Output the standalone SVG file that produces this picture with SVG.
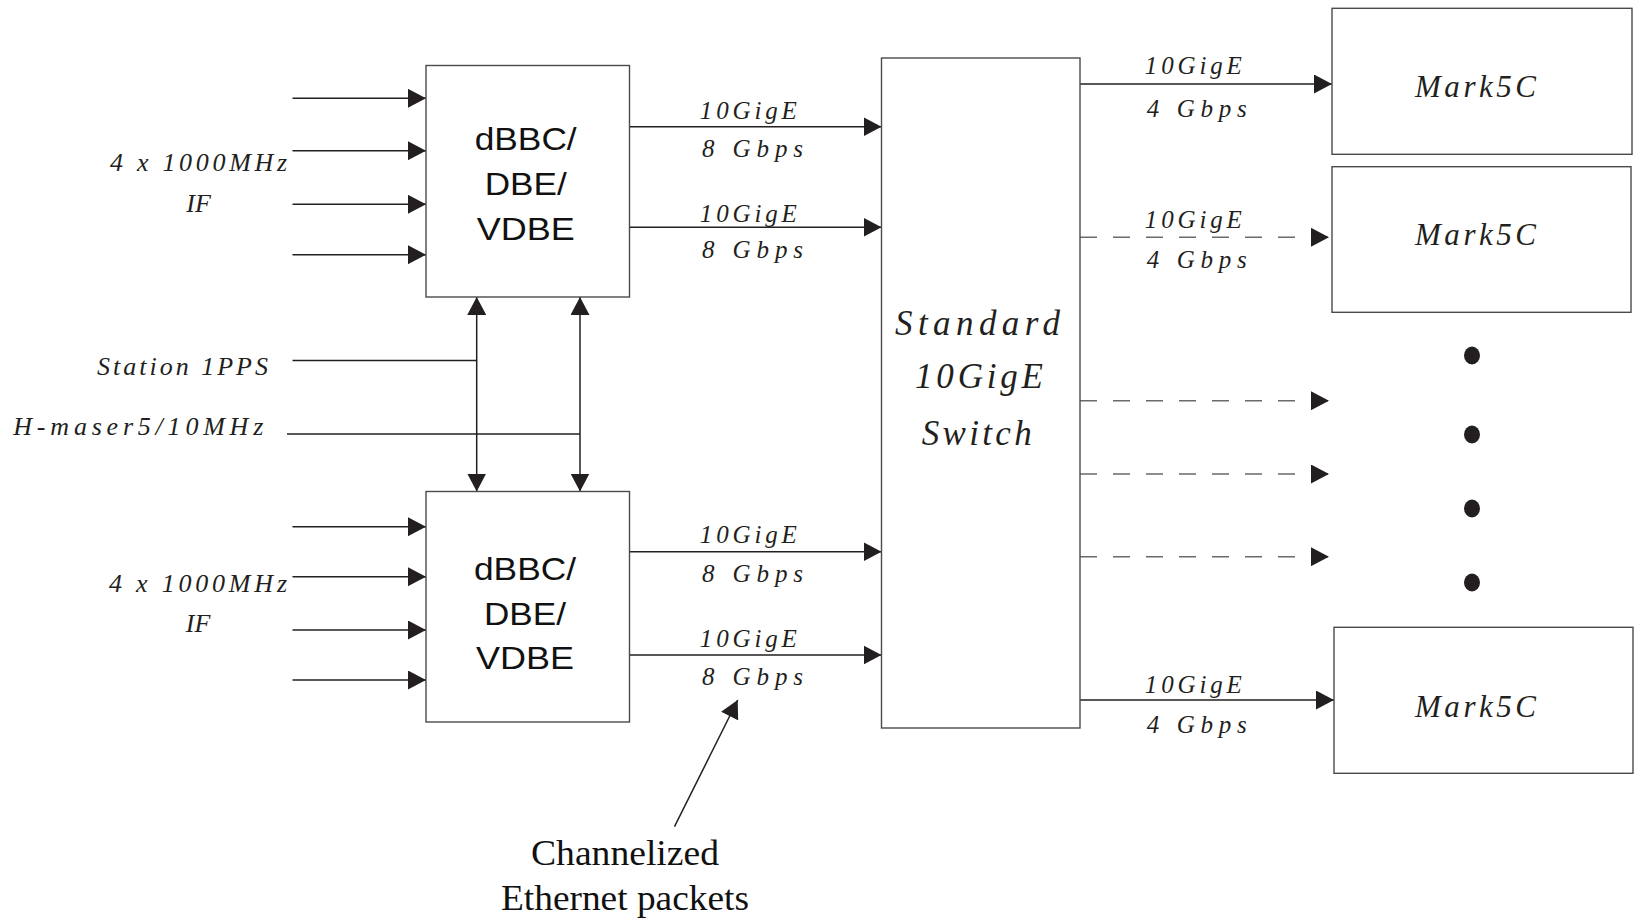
<svg xmlns="http://www.w3.org/2000/svg" width="1636" height="920" viewBox="0 0 1636 920">
<style>
.box{fill:#fff;stroke:#4a4a4a;stroke-width:1.4}
.ln{fill:none;stroke:#231f20;stroke-width:1.5}
.dash{fill:none;stroke:#6a6a6a;stroke-width:1.5;stroke-dasharray:17 16}
.sans{font-family:"Liberation Sans",Arial,sans-serif;font-size:31px;fill:#111;text-anchor:middle}
.it{font-family:"Liberation Serif","Times New Roman",serif;font-style:italic;fill:#231f20;text-anchor:middle}
.lbl{font-size:25px}
.side{font-size:26px}
.big{font-size:35px}
.mk{font-size:31px}
.ser{font-family:"Liberation Serif","Times New Roman",serif;font-size:36px;fill:#111;text-anchor:middle}
.dot{fill:#231f20}
</style>
<defs>
<marker id="ah" markerUnits="userSpaceOnUse" markerWidth="18" markerHeight="19" refX="18" refY="9.5" orient="auto">
<path d="M0,0 L18,9.5 L0,19 z" fill="#231f20"/>
</marker>
</defs>
<rect width="1636" height="920" fill="#fff"/>

<g id="connectors">
<line class="ln" x1="292.5" y1="98.3" x2="426" y2="98.3" marker-end="url(#ah)"/>
<line class="ln" x1="292.5" y1="150.7" x2="426" y2="150.7" marker-end="url(#ah)"/>
<line class="ln" x1="292.5" y1="204.3" x2="426" y2="204.3" marker-end="url(#ah)"/>
<line class="ln" x1="292.5" y1="254.7" x2="426" y2="254.7" marker-end="url(#ah)"/>
<line class="ln" x1="292.5" y1="526.7" x2="426" y2="526.7" marker-end="url(#ah)"/>
<line class="ln" x1="292.5" y1="576.7" x2="426" y2="576.7" marker-end="url(#ah)"/>
<line class="ln" x1="292.5" y1="630" x2="426" y2="630" marker-end="url(#ah)"/>
<line class="ln" x1="292.5" y1="680" x2="426" y2="680" marker-end="url(#ah)"/>
<line class="ln" x1="292.5" y1="360.5" x2="476.7" y2="360.5"/>
<line class="ln" x1="287" y1="434" x2="580" y2="434"/>
<line class="ln" x1="476.7" y1="394" x2="476.7" y2="297" marker-end="url(#ah)"/>
<line class="ln" x1="476.7" y1="394" x2="476.7" y2="491.5" marker-end="url(#ah)"/>
<line class="ln" x1="580" y1="394" x2="580" y2="297" marker-end="url(#ah)"/>
<line class="ln" x1="580" y1="394" x2="580" y2="491.5" marker-end="url(#ah)"/>
<line class="ln" x1="629.5" y1="126.7" x2="881.5" y2="126.7" marker-end="url(#ah)"/>
<line class="ln" x1="629.5" y1="227.3" x2="881.5" y2="227.3" marker-end="url(#ah)"/>
<line class="ln" x1="629.5" y1="551.7" x2="881.5" y2="551.7" marker-end="url(#ah)"/>
<line class="ln" x1="629.5" y1="655" x2="881.5" y2="655" marker-end="url(#ah)"/>
<line class="ln" x1="1080" y1="84" x2="1332" y2="84" marker-end="url(#ah)"/>
<line class="dash" x1="1080" y1="237.3" x2="1329" y2="237.3" marker-end="url(#ah)"/>
<line class="dash" x1="1080" y1="400.7" x2="1329" y2="400.7" marker-end="url(#ah)"/>
<line class="dash" x1="1080" y1="474" x2="1329" y2="474" marker-end="url(#ah)"/>
<line class="dash" x1="1080" y1="556.7" x2="1329" y2="556.7" marker-end="url(#ah)"/>
<line class="ln" x1="1080" y1="700" x2="1334" y2="700" marker-end="url(#ah)"/>
<line class="ln" x1="674.5" y1="826.7" x2="737.7" y2="700" marker-end="url(#ah)"/>
<text class="it lbl" x="748.3" y="119" textLength="97" lengthAdjust="spacing">10GigE</text>
<text class="it lbl" x="752.5" y="156.7" textLength="101" lengthAdjust="spacing">8 Gbps</text>
<text class="it lbl" x="748.3" y="221.7" textLength="97" lengthAdjust="spacing">10GigE</text>
<text class="it lbl" x="752.5" y="258.3" textLength="101" lengthAdjust="spacing">8 Gbps</text>
<text class="it lbl" x="748.3" y="543.3" textLength="97" lengthAdjust="spacing">10GigE</text>
<text class="it lbl" x="752.5" y="581.7" textLength="101" lengthAdjust="spacing">8 Gbps</text>
<text class="it lbl" x="748.3" y="646.7" textLength="97" lengthAdjust="spacing">10GigE</text>
<text class="it lbl" x="752.5" y="685" textLength="101" lengthAdjust="spacing">8 Gbps</text>
<text class="it lbl" x="1193.3" y="74.3" textLength="97" lengthAdjust="spacing">10GigE</text>
<text class="it lbl" x="1196.7" y="116.7" textLength="100" lengthAdjust="spacing">4 Gbps</text>
<text class="it lbl" x="1193.3" y="228.3" textLength="97" lengthAdjust="spacing">10GigE</text>
<text class="it lbl" x="1196.7" y="268.3" textLength="100" lengthAdjust="spacing">4 Gbps</text>
<text class="it lbl" x="1193.3" y="692.7" textLength="97" lengthAdjust="spacing">10GigE</text>
<text class="it lbl" x="1196.7" y="733.3" textLength="100" lengthAdjust="spacing">4 Gbps</text>
</g>

<g id="input-if-top">
<text class="it side" x="198.6" y="170.7" textLength="177" lengthAdjust="spacing">4 x 1000MHz</text>
<text class="it side" x="198.6" y="211.7">IF</text>
</g>
<g id="input-if-bottom">
<text class="it side" x="198" y="591.7" textLength="178" lengthAdjust="spacing">4 x 1000MHz</text>
<text class="it side" x="198" y="631.7">IF</text>
</g>
<g id="station-1pps">
<text class="it side" x="182.5" y="375" textLength="171" lengthAdjust="spacing">Station 1PPS</text>
</g>
<g id="h-maser">
<text class="it side" x="138.3" y="435" textLength="250" lengthAdjust="spacing">H-maser5/10MHz</text>
</g>

<g id="dbbc-top">
<rect class="box" x="426" y="65.5" width="203.5" height="231.5"/>
<text class="sans" x="525.7" y="149.5" textLength="102" lengthAdjust="spacingAndGlyphs">dBBC/</text>
<text class="sans" x="525.7" y="194.5" textLength="82" lengthAdjust="spacingAndGlyphs">DBE/</text>
<text class="sans" x="525.7" y="239.5" textLength="98" lengthAdjust="spacingAndGlyphs">VDBE</text>
</g>
<g id="dbbc-bottom">
<rect class="box" x="426" y="491.5" width="203.5" height="230.5"/>
<text class="sans" x="525" y="580" textLength="102" lengthAdjust="spacingAndGlyphs">dBBC/</text>
<text class="sans" x="525" y="625" textLength="82" lengthAdjust="spacingAndGlyphs">DBE/</text>
<text class="sans" x="525" y="669.3" textLength="98" lengthAdjust="spacingAndGlyphs">VDBE</text>
</g>

<g id="switch">
<rect class="box" x="881.5" y="58" width="198.5" height="670"/>
<text class="it big" x="977.5" y="335" textLength="165" lengthAdjust="spacing">Standard</text>
<text class="it big" x="979" y="388.3" textLength="128" lengthAdjust="spacing">10GigE</text>
<text class="it big" x="976.7" y="445" textLength="110" lengthAdjust="spacing">Switch</text>
</g>

<g id="mark5c-1">
<rect class="box" x="1332" y="8.3" width="300" height="146"/>
<text class="it mk" x="1475.5" y="96.7" textLength="121" lengthAdjust="spacing">Mark5C</text>
</g>
<g id="mark5c-2">
<rect class="box" x="1332" y="166.7" width="299" height="145.6"/>
<text class="it mk" x="1475.5" y="245" textLength="121" lengthAdjust="spacing">Mark5C</text>
</g>
<g id="mark5c-3">
<rect class="box" x="1334" y="627.3" width="299" height="146"/>
<text class="it mk" x="1475.5" y="716.7" textLength="121" lengthAdjust="spacing">Mark5C</text>
</g>

<g id="ellipsis">
<ellipse class="dot" cx="1472" cy="355.5" rx="8" ry="9"/>
<ellipse class="dot" cx="1472" cy="434.5" rx="8" ry="9"/>
<ellipse class="dot" cx="1472" cy="508.5" rx="8" ry="9"/>
<ellipse class="dot" cx="1472" cy="582.5" rx="8" ry="9"/>
</g>

<g id="annotation">
<text class="ser" x="625" y="865" textLength="188" lengthAdjust="spacingAndGlyphs">Channelized</text>
<text class="ser" x="625" y="910" textLength="248" lengthAdjust="spacingAndGlyphs">Ethernet packets</text>
</g>
</svg>
